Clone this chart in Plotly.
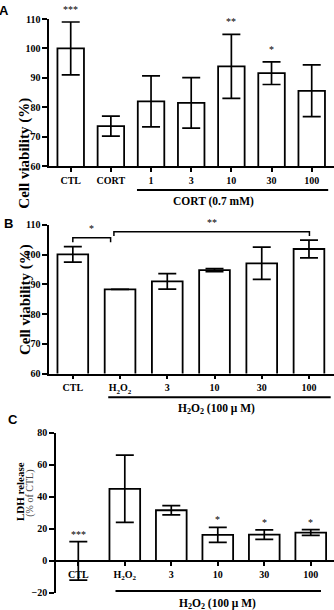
import plotly.graph_objects as go

W, H = 334, 610

# ---------------- data ----------------
cats_a = ["CTL", "CORT", "1", "3", "10", "30", "100"]
mean_a = [100, 73.6, 82.0, 81.5, 93.9, 91.6, 85.6]
err_a = [9.0, 3.4, 8.7, 8.6, 10.9, 3.85, 8.8]
stars_a = ["***", "", "", "", "**", "*", ""]

H2O2 = "H<sub>2</sub>O<sub>2</sub>"
cats_b = ["CTL", H2O2, "3", "10", "30", "100"]
mean_b = [100.1, 88.3, 91.0, 94.8, 97.1, 101.9]
err_b = [2.6, 0.0, 2.6, 0.5, 5.4, 3.0]

cats_c = ["CTL", H2O2, "3", "10", "30", "100"]
mean_c = [0, 45.0, 31.6, 16.2, 16.4, 17.7]
err_c = [12.0, 21.0, 2.9, 4.7, 3.0, 1.8]
stars_c = ["***", "", "", "*", "*", "*"]

# significance brackets in panel B: (x start, x end, top, leg bottom, label)
brackets_b = [(0.0, 0.80, 105.7, 104.2, "*"), (0.87, 5.01, 107.7, 106.3, "**")]

SERIF = "Liberation Serif"
SANS = "Liberation Sans"

def px_x(x):
    return x / W

def px_y(y):
    return 1 - y / H

fig = go.Figure()

bar_style = dict(marker=dict(color="white", line=dict(color="black", width=1.8)),
                 showlegend=False, hoverinfo="skip")

def err(arr):
    return dict(type="data", array=arr, visible=True, color="black", thickness=1.7, width=9)

fig.add_trace(go.Bar(x=cats_a, y=mean_a, error_y=err(err_a), width=0.66,
                     xaxis="x", yaxis="y", **bar_style))
fig.add_trace(go.Bar(x=cats_b, y=mean_b, error_y=err(err_b), width=0.65,
                     xaxis="x2", yaxis="y2", **bar_style))
fig.add_trace(go.Bar(x=cats_c, y=mean_c, error_y=err(err_c), width=0.66,
                     xaxis="x3", yaxis="y3", **bar_style))

tickfont = dict(family=SERIF, size=10, color="black", weight="bold")

xcommon = dict(type="category", showline=True, linecolor="black", linewidth=1.7,
               ticks="outside", ticklen=4, tickwidth=1.5, tickcolor="black",
               showgrid=False, zeroline=False, tickfont=tickfont, fixedrange=True)
ycommon = dict(showline=True, linecolor="black", linewidth=1.7,
               ticks="outside", ticklen=5, tickwidth=1.5, tickcolor="black",
               showgrid=False, zeroline=False, tickfont=tickfont, fixedrange=True)

fig.update_layout(
    width=W, height=H,
    margin=dict(l=0, r=0, t=0, b=0),
    paper_bgcolor="white", plot_bgcolor="white",
    showlegend=False,
    xaxis=dict(domain=[49.3 / W, 1], anchor="y", range=[-0.533, 6.555], **xcommon),
    yaxis=dict(domain=[px_y(163.3), px_y(13.3)], anchor="x", range=[60, 110], dtick=10, **ycommon),
    xaxis2=dict(domain=[49.3 / W, 1], anchor="y2", range=[-0.498, 5.53], **xcommon),
    yaxis2=dict(domain=[px_y(375), px_y(223.3)], anchor="x2", range=[60, 110], dtick=10, **ycommon),
    xaxis3=dict(domain=[56 / W, 1], anchor="free", position=px_y(566), range=[-0.48, 5.5], **xcommon),
    yaxis3=dict(domain=[px_y(598.7), px_y(435.3)], anchor="x3", range=[-20, 80], dtick=20, **ycommon),
)

ann = []
shapes = []

# significance stars above error bars (x given as category index)
for cats, means, errs, stars, xr, yr, shift in [(cats_a, mean_a, err_a, stars_a, "x", "y", 5),
                                                (cats_c, mean_c, err_c, stars_c, "x3", "y3", 0)]:
    for i, (m, e, s) in enumerate(zip(means, errs, stars)):
        if s:
            ann.append(dict(x=i, y=m + e, xref=xr, yref=yr, text=s, showarrow=False,
                            yanchor="bottom", yshift=shift,
                            font=dict(family=SERIF, size=10, color="black")))

# brackets panel B
for x0, x1, top, bot, lab in brackets_b:
    shapes.append(dict(type="path", xref="x2", yref="y2",
                       path=f"M {x0},{bot} L {x0},{top} L {x1},{top} L {x1},{bot}",
                       line=dict(color="black", width=1.5)))
    ann.append(dict(x=(x0 + x1) / 2, y=top, xref="x2", yref="y2", text=lab, showarrow=False,
                    yanchor="bottom", yshift=2, font=dict(family=SERIF, size=10, color="black")))

# group underlines and labels
groups = [("x", 1.65, 6.41, 187.7, 199, "CORT (0.7 mM)", 3.55),
          ("x2", 0.75, 5.46, 399, 411, "H<sub>2</sub>O<sub>2</sub> (100 μ M)", 3.05),
          ("x3", 0.80, 5.22, 596.7, 610, "H<sub>2</sub>O<sub>2</sub> (100 μ M)", 3.0)]
for xr, x0, x1, ly, ty, txt, tx in groups:
    shapes.append(dict(type="line", xref=xr, yref="paper", x0=x0, x1=x1, y0=px_y(ly), y1=px_y(ly),
                       line=dict(color="black", width=2)))
    ann.append(dict(x=tx, y=px_y(ty), xref=xr, yref="paper", text=txt, showarrow=False,
                    yanchor="middle", font=dict(family=SERIF, size=11.5, color="black", weight="bold")))

# axis titles
ann.append(dict(x=px_x(14.5), y=px_y(92), xref="paper", yref="paper", text="Cell viability (%)",
                textangle=-90, showarrow=False,
                font=dict(family=SERIF, size=15, color="black", weight="bold")))
ann.append(dict(x=px_x(14.5), y=px_y(300), xref="paper", yref="paper", text="Cell viability (%)",
                textangle=-90, showarrow=False,
                font=dict(family=SERIF, size=15, color="black", weight="bold")))
ann.append(dict(x=px_x(12), y=px_y(528), xref="paper", yref="paper", text="LDH release",
                textangle=-90, showarrow=False,
                font=dict(family=SERIF, size=11, color="black", weight="bold")))
ann.append(dict(x=px_x(22.5), y=px_y(523), xref="paper", yref="paper", text="(% of CTL)",
                textangle=-90, showarrow=False,
                font=dict(family=SERIF, size=10, color="#444")))

# panel letters
for letter, lx, ly in [("A", 4, 5), ("B", 8, 222), ("C", 13, 422)]:
    ann.append(dict(x=px_x(lx), y=px_y(ly), xref="paper", yref="paper", text=letter,
                    showarrow=False, xanchor="center", yanchor="middle",
                    font=dict(family=SANS, size=13, color="black", weight="bold")))

fig.update_layout(annotations=ann, shapes=shapes)
fig.write_html("out.html")
